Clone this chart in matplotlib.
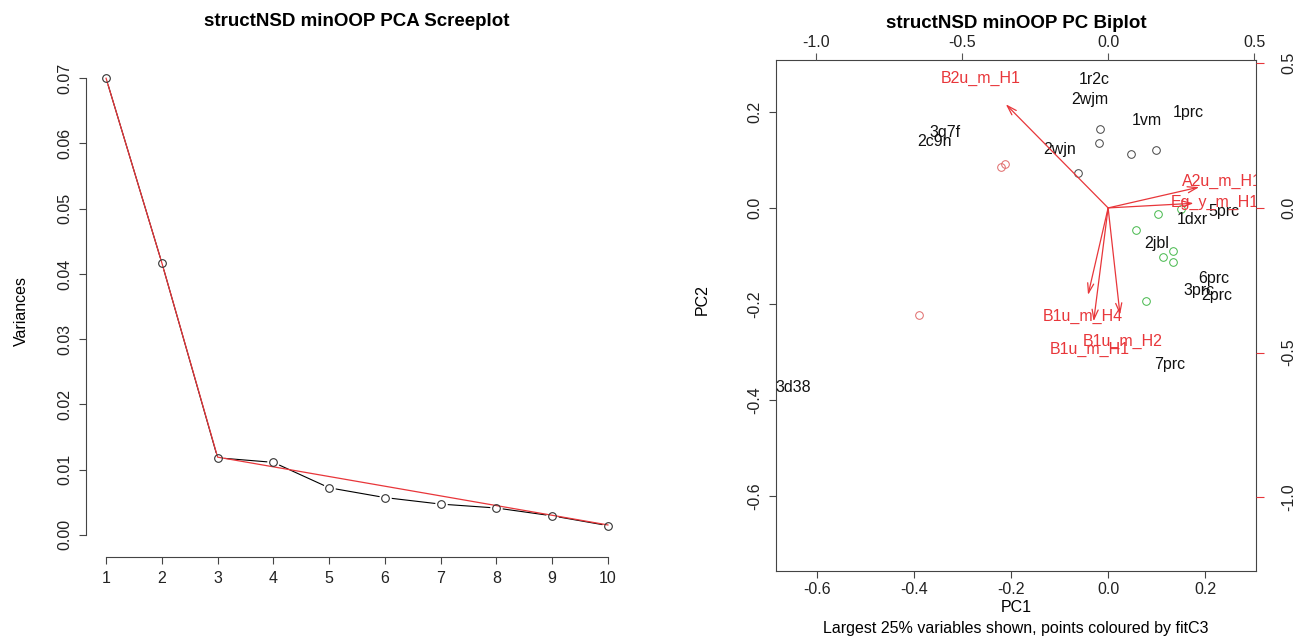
import matplotlib.pyplot as plt

plt.rcParams["font.family"] = ["Liberation Sans", "DejaVu Sans"]

# scree plot values
components = [1, 2, 3, 4, 5, 6, 7, 8, 9, 10]
variances = [0.0700, 0.0417, 0.0118, 0.0111, 0.0072, 0.0057, 0.0047, 0.0041, 0.0029, 0.0014]
fit_x = [1, 2, 3, 10]
fit_y = [0.0700, 0.0417, 0.0119, 0.0015]

# biplot scores (circles), grouped by fitC3
black_x = [-0.017, -0.019, 0.047, 0.099, -0.062]
black_y = [0.165, 0.135, 0.113, 0.121, 0.073]
red_x = [-0.212, -0.221, -0.390]
red_y = [0.092, 0.085, -0.223]
green_x = [0.103, 0.151, 0.058, 0.134, 0.113, 0.134, 0.078]
green_y = [-0.013, -0.002, -0.046, -0.090, -0.102, -0.113, -0.194]

# observation labels
obs_labels = ["1r2c", "2wjm", "1vm", "1prc", "3q7f", "2c9n", "2wjn", "5prc", "1dxr",
              "2jbl", "6prc", "3prc", "2prc", "7prc", "3d38"]
obs_x = [-0.029, -0.037, 0.080, 0.165, -0.336, -0.359, -0.099, 0.239, 0.173,
         0.101, 0.219, 0.188, 0.225, 0.128, -0.650]
obs_y = [0.267, 0.225, 0.181, 0.198, 0.158, 0.138, 0.121, -0.008, -0.025,
         -0.075, -0.146, -0.171, -0.183, -0.325, -0.373]

# variable loadings (label positions, loading scale)
var_labels = ["B2u_m_H1", "A2u_m_H1", "Eg_y_m_H1", "B1u_m_H4", "B1u_m_H2", "B1u_m_H1"]
var_x = [-0.438, 0.390, 0.366, -0.086, 0.051, -0.062]
var_y = [0.448, 0.090, 0.020, -0.376, -0.462, -0.490]

ratio = 1.66
RED = "#e8363a"
FS = 11.5

fig = plt.figure(figsize=(13.09, 6.42), dpi=100)
W, H = 1309, 642


def rect(x0, y0, x1, y1):
    return [x0 / W, 1 - y1 / H, (x1 - x0) / W, (y1 - y0) / H]


# ---- scree plot ----
ax1 = fig.add_axes(rect(86, 60, 628, 553))
ax1.plot(components, variances, color="black", lw=0.8, zorder=1)
ax1.plot(components, variances, "o", ms=9, mfc="white", mec="none", zorder=2)
ax1.plot(fit_x, fit_y, color=RED, lw=0.9, zorder=3)
ax1.plot(components, variances, "o", ms=5.5, mfc="none", mec="#333333", mew=0.8, zorder=4)
ax1.set_xlim(0.64, 10.36)
ax1.set_ylim(-0.0028, 0.0728)
ax1.spines["top"].set_visible(False)
ax1.spines["right"].set_visible(False)
ax1.spines["left"].set_bounds(0, 0.07)
ax1.spines["bottom"].set_bounds(1, 10)
ax1.spines["bottom"].set_position(("outward", 3))
for s in ["left", "bottom"]:
    ax1.spines[s].set_color("#444444")
ax1.set_xticks(components)
ax1.set_yticks([0.00, 0.01, 0.02, 0.03, 0.04, 0.05, 0.06, 0.07])
ax1.set_yticklabels(["0.00", "0.01", "0.02", "0.03", "0.04", "0.05", "0.06", "0.07"],
                    rotation=90, va="center")
ax1.tick_params(length=5, width=0.8, labelsize=FS, pad=5, color="#444444",
                labelcolor="#222222")
ax1.set_ylabel("Variances", fontsize=FS)
ax1.yaxis.set_label_coords(-0.105, 0.49)
fig.text(357 / W, 1 - 22 / H, "structNSD minOOP PCA Screeplot", ha="center",
         va="center", fontsize=13.5, fontweight="bold")

# ---- biplot ----
ax2 = fig.add_axes(rect(776, 60, 1256, 571))
xl = (-0.685, 0.305)
yl = (-0.756, 0.308)
ax2.set_xlim(*xl)
ax2.set_ylim(*yl)
ax2.plot(black_x, black_y, "o", ms=5.5, mfc="none", mec="#444444", mew=0.7)
ax2.plot(red_x, red_y, "o", ms=5.5, mfc="none", mec="#e06a6a", mew=0.7)
ax2.plot(green_x, green_y, "o", ms=5.5, mfc="none", mec="#44b84a", mew=0.7)
for lab, x, y in zip(obs_labels, obs_x, obs_y):
    ax2.text(x, y, lab, ha="center", va="center", fontsize=FS, color="#111111")
for lab, x, y in zip(var_labels, var_x, var_y):
    ax2.annotate("", xy=(0.8 * x / ratio, 0.8 * y / ratio), xytext=(0, 0),
                 arrowprops=dict(arrowstyle="->,head_length=0.7,head_width=0.22",
                                 color=RED, lw=0.9, shrinkA=0, shrinkB=0))
    ax2.text(x / ratio, y / ratio, lab, ha="center", va="center", fontsize=FS,
             color=RED, clip_on=True)
ax2.set_xticks([-0.6, -0.4, -0.2, 0.0, 0.2])
ax2.set_xticklabels(["-0.6", "-0.4", "-0.2", "0.0", "0.2"])
ax2.set_yticks([-0.6, -0.4, -0.2, 0.0, 0.2])
ax2.set_yticklabels(["-0.6", "-0.4", "-0.2", "0.0", "0.2"], rotation=90, va="center")
ax2.tick_params(length=5, width=0.8, labelsize=FS, pad=5, color="#444444",
                labelcolor="#222222")
ax2.tick_params(axis="x", pad=3)
for s in ax2.spines.values():
    s.set_color("#444444")

top = ax2.twiny()
top.set_xlim(xl[0] * ratio, xl[1] * ratio)
top.set_xticks([-1.0, -0.5, 0.0, 0.5])
top.set_xticklabels(["-1.0", "-0.5", "0.0", "0.5"])
top.tick_params(length=5, width=0.8, labelsize=FS, pad=2, color="#555555",
                labelcolor="#222222")
right = ax2.twinx()
right.set_ylim(yl[0] * ratio, yl[1] * ratio)
right.set_yticks([-1.0, -0.5, 0.0, 0.5])
right.set_yticklabels(["-1.0", "-0.5", "0.0", "0.5"], rotation=90, va="center")
right.tick_params(length=6, width=0.8, labelsize=FS, pad=12, color=RED,
                  labelcolor="#222222")
for a in (top, right):
    for s in a.spines.values():
        s.set_visible(False)

fig.text(1016 / W, 1 - 24 / H, "structNSD minOOP PC Biplot", ha="center",
         va="center", fontsize=13.5, fontweight="bold")
fig.text(1016 / W, 1 - 608 / H, "PC1", ha="center", va="center", fontsize=FS)
fig.text(1016 / W, 1 - 628 / H, "Largest 25% variables shown, points coloured by fitC3",
         ha="center", va="center", fontsize=FS)
fig.text(702 / W, 1 - 300 / H, "PC2", ha="center", va="center", fontsize=FS,
         rotation=90)

fig.savefig("out.png", dpi=100)
